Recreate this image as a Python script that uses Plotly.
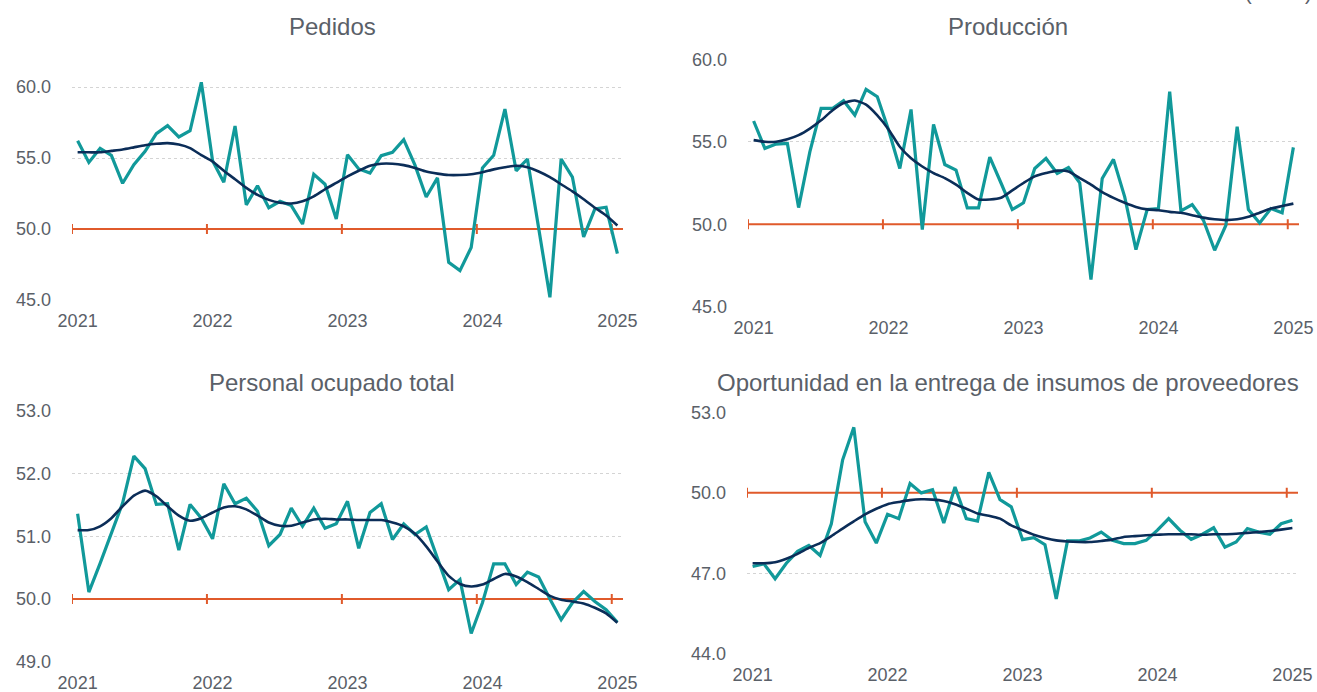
import plotly.graph_objects as go

# ---------------- data ----------------
anios = [2021, 2022, 2023, 2024, 2025]
periodos = [f"{a}-{m:02d}" for a in range(2021, 2025) for m in range(1, 13)] + ["2025-01"]

titulos = ["Pedidos", "Producción", "Personal ocupado total",
           "Oportunidad en la entrega de insumos de proveedores"]

pedidos = [56.22, 54.69, 55.68, 55.19, 53.22, 54.53, 55.47, 56.71, 57.28, 56.48,
           56.92, 60.33, 54.8, 53.29, 57.25, 51.7, 53.05, 51.5, 51.95, 51.65,
           50.35, 53.85, 53.15, 50.7, 55.23, 54.23, 53.94, 55.16, 55.4, 56.29,
           54.5, 52.25, 53.6, 47.65, 47.07, 48.7, 54.3, 55.19, 58.45, 54.1,
           54.93, 49.9, 45.19, 54.93, 53.66, 49.44, 51.41, 51.53, 48.26]
pedidos_tend = [55.4, 55.4, 55.4, 55.5, 55.6, 55.75, 55.9, 56.0, 56.05, 55.95,
                55.7, 55.2, 54.75, 54.1, 53.5, 52.9, 52.4, 52.05, 51.85, 51.8,
                51.95, 52.3, 52.8, 53.25, 53.7, 54.1, 54.45, 54.6, 54.6, 54.5,
                54.3, 54.05, 53.9, 53.8, 53.8, 53.85, 54.0, 54.2, 54.35, 54.45,
                54.35, 54.05, 53.65, 53.15, 52.65, 52.1, 51.5, 50.95, 50.25]

produccion = [56.26, 54.6, 54.86, 54.9, 51.01, 54.39, 57.02, 57.02, 57.49, 56.62,
              58.18, 57.73, 55.71, 53.38, 56.96, 49.68, 56.05, 53.62, 53.28, 50.99,
              50.99, 54.07, 52.5, 50.89, 51.3, 53.38, 53.99, 53.08, 53.44, 52.51,
              46.64, 52.77, 53.93, 51.66, 48.46, 50.89, 50.95, 58.04, 50.81, 51.19,
              50.24, 48.42, 49.94, 55.91, 50.89, 50.08, 50.95, 50.69, 54.66]
produccion_tend = [55.1, 55.0, 55.0, 55.15, 55.4, 55.8, 56.3, 56.9, 57.35, 57.5,
                   57.25, 56.6, 55.75, 54.7, 54.0, 53.5, 53.1, 52.8, 52.4, 51.9,
                   51.5, 51.5, 51.6, 52.05, 52.5, 52.9, 53.1, 53.25, 53.2, 52.8,
                   52.4, 51.95, 51.6, 51.3, 51.05, 50.9, 50.85, 50.75, 50.7, 50.55,
                   50.4, 50.3, 50.25, 50.3, 50.45, 50.7, 50.95, 51.1, 51.25]

personal = [51.36, 50.11, 50.57, 51.05, 51.53, 52.28, 52.08, 51.51, 51.52, 50.78,
            51.51, 51.29, 50.96, 51.84, 51.52, 51.61, 51.4, 50.85, 51.03, 51.45,
            51.16, 51.45, 51.13, 51.2, 51.56, 50.81, 51.38, 51.52, 50.95, 51.2,
            51.03, 51.15, 50.65, 50.15, 50.31, 49.45, 49.94, 50.56, 50.56, 50.23,
            50.43, 50.35, 50.0, 49.67, 49.94, 50.12, 49.96, 49.83, 49.63]
personal_tend = [51.1, 51.1, 51.16, 51.29, 51.48, 51.65, 51.73, 51.64, 51.48, 51.33,
                 51.25, 51.29, 51.38, 51.46, 51.48, 51.43, 51.33, 51.22, 51.17, 51.17,
                 51.22, 51.27, 51.28, 51.27, 51.27, 51.26, 51.26, 51.26, 51.22, 51.16,
                 51.04, 50.84, 50.6, 50.37, 50.24, 50.2, 50.23, 50.32, 50.4, 50.36,
                 50.27, 50.16, 50.05, 49.99, 49.96, 49.93, 49.86, 49.77, 49.62]

oportunidad = [47.26, 47.36, 46.8, 47.38, 47.82, 48.04, 47.67, 48.85, 51.22, 52.44,
               48.92, 48.13, 49.2, 49.04, 50.35, 50.0, 50.12, 48.88, 50.22, 49.04,
               48.95, 50.76, 49.75, 49.48, 48.26, 48.33, 48.07, 46.05, 48.21, 48.21,
               48.32, 48.54, 48.23, 48.11, 48.11, 48.23, 48.61, 49.04, 48.61, 48.27,
               48.46, 48.7, 47.98, 48.17, 48.67, 48.54, 48.46, 48.85, 48.98]
oportunidad_tend = [47.38, 47.38, 47.42, 47.55, 47.73, 47.95, 48.13, 48.39, 48.67, 48.94,
                    49.2, 49.41, 49.58, 49.66, 49.73, 49.76, 49.75, 49.7, 49.58, 49.41,
                    49.23, 49.15, 49.04, 48.79, 48.61, 48.44, 48.32, 48.23, 48.19, 48.17,
                    48.17, 48.21, 48.26, 48.36, 48.39, 48.42, 48.44, 48.46, 48.46, 48.46,
                    48.44, 48.46, 48.46, 48.48, 48.51, 48.54, 48.58, 48.63, 48.69]

umbral = 50.0

# y-axis ticks per panel
yticks_ped = [45, 50, 55, 60]
yticks_prod = [45, 50, 55, 60]
yticks_pers = [49, 50, 51, 52, 53]
yticks_opor = [44, 47, 50, 53]

# ---------------- layout helpers ----------------
W, H = 1317, 692
TEAL = "#11999A"
NAVY = "#0B2D58"
ORANGE = "#E05A2B"
GRID = "#D4D4D4"
TXT = "#5A6068"
FONT = "Liberation Sans, Arial, sans-serif"

def xd(p):
    return p / W

def yd(p):
    return 1 - p / H

# panel definitions: (series, trend, ticks, yrange, x px (l, r), y px (top, bottom), title center px)
paneles = [
    (pedidos, pedidos_tend, yticks_ped, [45, 60.5], (72, 623), (79.9, 300), (332, 26)),
    (produccion, produccion_tend, yticks_prod, [45, 60], (748, 1299), (59.3, 306.7), (1008, 26)),
    (personal, personal_tend, yticks_pers, [49, 53], (72, 623), (411, 661.7), (332, 382)),
    (oportunidad, oportunidad_tend, yticks_opor, [44, 53], (747, 1298), (412.3, 654), (1008, 382)),
]

fig = go.Figure()
shapes = []
annotations = []
n = len(periodos)
tick_cats = [p for p in periodos if p.endswith("-01")]
limites = [periodos.index(c) - 0.5 for c in tick_cats]

for k, (serie, tend, yt, yr, (xl, xr), (yt_px, yb_px), (tx, ty)) in enumerate(paneles):
    sfx = "" if k == 0 else str(k + 1)
    xa, ya = "x" + sfx, "y" + sfx
    fig.add_trace(go.Scatter(x=periodos, y=serie, mode="lines",
                             line=dict(color=TEAL, width=3.2),
                             xaxis=xa, yaxis=ya, showlegend=False))
    fig.add_trace(go.Scatter(x=periodos, y=tend, mode="lines",
                             line=dict(color=NAVY, width=2.6, shape="spline", smoothing=0.6),
                             xaxis=xa, yaxis=ya, showlegend=False))
    fig.layout["xaxis" + sfx] = dict(
        domain=[xd(xl), xd(xr)], anchor=ya, type="category",
        range=[-0.5, n - 0.5], tickmode="array", tickvals=tick_cats,
        ticktext=[str(a) for a in anios], showgrid=False, zeroline=False,
        showline=False, ticks="", ticklabelstandoff=8, automargin=False,
        tickfont=dict(family=FONT, size=18, color=TXT))
    fig.layout["yaxis" + sfx] = dict(
        domain=[yd(yb_px), yd(yt_px)], anchor=xa, range=yr,
        tickmode="array", tickvals=yt, tickformat=".1f",
        showgrid=True, gridcolor=GRID, griddash="dot", gridwidth=1,
        zeroline=False, showline=False, ticks="", ticklabelstandoff=20,
        automargin=False, tickfont=dict(family=FONT, size=18, color=TXT))
    # threshold line at 50 acting as the category axis
    shapes.append(dict(type="line", xref=xa, yref=ya, x0=-0.5, x1=n - 0.5,
                       y0=umbral, y1=umbral, line=dict(color=ORANGE, width=2),
                       layer="between"))
    for b in limites:
        shapes.append(dict(type="line", xref=xa, yref=ya, x0=b, x1=b,
                           ysizemode="pixel", yanchor=umbral, y0=-5, y1=5,
                           line=dict(color=ORANGE, width=2), layer="between"))
    annotations.append(dict(text=titulos[k], xref="paper", yref="paper",
                            x=xd(tx), y=yd(ty), xanchor="center", yanchor="middle",
                            showarrow=False,
                            font=dict(family=FONT, size=24, color=TXT)))

annotations.append(dict(text="(Índice)", xref="paper", yref="paper",
                        x=xd(1243), y=yd(6), xanchor="left", yanchor="bottom",
                        showarrow=False, font=dict(family=FONT, size=20, color=TXT)))

fig.update_layout(width=W, height=H,
                  margin=dict(l=0, r=0, t=0, b=0, autoexpand=False),
                  paper_bgcolor="white", plot_bgcolor="white",
                  shapes=shapes, annotations=annotations, showlegend=False)

fig.write_html("out.html", config={"displayModeBar": False},
               post_script="document.body.style.margin='0';document.body.style.overflow='hidden';")
